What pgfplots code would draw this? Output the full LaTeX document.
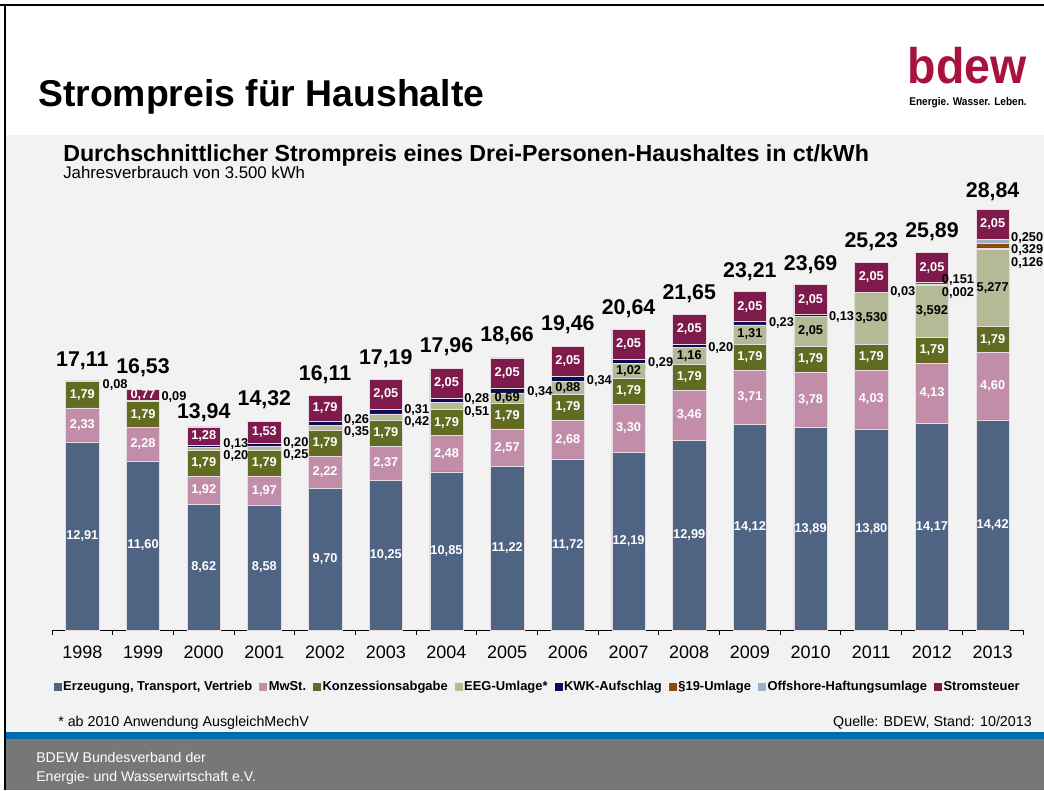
\documentclass[border=0pt]{standalone}
\usepackage{fontspec}
\setmainfont{Liberation Sans}
\usepackage{pgfplots}
\usepackage{pgfplotstable}
\pgfplotsset{compat=1.18}

\definecolor{cErz}{HTML}{4F6382}
\definecolor{cMwSt}{HTML}{C28DA8}
\definecolor{cKA}{HTML}{616B22}
\definecolor{cEEG}{HTML}{B4B996}
\definecolor{cKWK}{HTML}{0C0C55}
\definecolor{cP19}{HTML}{8F4A10}
\definecolor{cOff}{HTML}{9CB0CB}
\definecolor{cSS}{HTML}{7E1B4C}
\definecolor{cEdge}{HTML}{E6DDE2}
\definecolor{panel}{HTML}{F2F2F2}
\definecolor{band}{HTML}{0069B3}
\definecolor{foot}{HTML}{777777}
\definecolor{bdewred}{HTML}{A8123E}

\newcommand\fs[1]{\fontsize{#1}{#1}\selectfont}

\pgfplotstableread{
yr erz mwst ka eeg kwk p19 off ss
0 12.91 2.33 1.79 0.08 0 0 0 0
1 11.60 2.28 1.79 0.09 0 0 0 0.77
2 8.62 1.92 1.79 0.20 0.13 0 0 1.28
3 8.58 1.97 1.79 0.25 0.20 0 0 1.53
4 9.70 2.22 1.79 0.35 0.26 0 0 1.79
5 10.25 2.37 1.79 0.42 0.31 0 0 2.05
6 10.85 2.48 1.79 0.51 0.28 0 0 2.05
7 11.22 2.57 1.79 0.69 0.34 0 0 2.05
8 11.72 2.68 1.79 0.88 0.34 0 0 2.05
9 12.19 3.30 1.79 1.02 0.29 0 0 2.05
10 12.99 3.46 1.79 1.16 0.20 0 0 2.05
11 14.12 3.71 1.79 1.31 0.23 0 0 2.05
12 13.89 3.78 1.79 2.05 0.13 0 0 2.05
13 13.80 4.03 1.79 3.530 0.03 0 0 2.05
14 14.17 4.13 1.79 3.592 0.002 0.151 0 2.05
15 14.42 4.60 1.79 5.277 0.126 0.329 0.250 2.05
}\bars

\pgfplotstableread{
x y l
0 6.455 12,91
0 14.075 2,33
0 16.135 1,79
1 5.80 11,60
1 12.74 2,28
1 14.775 1,79
1 16.145 0,77
2 4.31 8,62
2 9.58 1,92
2 11.435 1,79
2 13.30 1,28
3 4.29 8,58
3 9.565 1,97
3 11.445 1,79
3 13.555 1,53
4 4.85 9,70
4 10.81 2,22
4 12.815 1,79
4 15.215 1,79
5 5.125 10,25
5 11.435 2,37
5 13.515 1,79
5 16.165 2,05
6 5.425 10,85
6 12.09 2,48
6 14.225 1,79
6 16.935 2,05
7 5.61 11,22
7 12.505 2,57
7 14.685 1,79
7 17.635 2,05
8 5.86 11,72
8 13.06 2,68
8 15.295 1,79
8 18.435 2,05
9 6.095 12,19
9 13.84 3,30
9 16.385 1,79
9 19.615 2,05
10 6.495 12,99
10 14.72 3,46
10 17.345 1,79
10 20.625 2,05
11 7.06 14,12
11 15.975 3,71
11 18.725 1,79
11 22.185 2,05
12 6.945 13,89
12 15.78 3,78
12 18.565 1,79
12 22.665 2,05
13 6.90 13,80
13 15.815 4,03
13 18.725 1,79
13 24.205 2,05
14 7.085 14,17
14 16.235 4,13
14 19.195 1,79
14 24.86 2,05
15 7.21 14,42
15 16.72 4,60
15 19.915 1,79
15 27.817 2,05
}\labW

\pgfplotstableread{
x y l
7 15.925 0,69
8 16.63 0,88
9 17.79 1,02
10 18.82 1,16
11 20.275 1,31
12 20.485 2,05
13 21.385 3,530
14 21.886 3,592
15 23.45 5,277
}\labB

\pgfplotstableread{
x y l
0.33 16.8 0,08
1.30 16.00 0,09
2.32 12.77 0,13
2.32 11.92 0,20
3.31 12.84 0,20
3.31 11.99 0,25
4.31 14.41 0,26
4.31 13.57 0,35
5.30 15.10 0,31
5.30 14.25 0,42
6.29 15.86 0,28
6.29 14.94 0,51
7.33 16.32 0,34
8.31 17.08 0,34
9.32 18.31 0,29
10.31 19.34 0,20
11.31 21.06 0,23
12.30 21.45 0,13
13.31 23.18 0,03
14.16 24.00 0,151
14.16 23.14 0,002
15.30 26.90 0,250
15.30 26.06 0,329
15.30 25.20 0,126
}\labR

% totals: x, baseline position of the label (data units), text
\pgfplotstableread{
x y l
0 18.11 17,11
1 17.63 16,53
2 14.48 13,94
3 15.43 14,32
4 17.15 16,11
5 18.18 17,19
6 19.07 17,96
7 19.78 18,66
8 20.55 19,46
9 21.67 20,64
10 22.70 21,65
11 24.21 23,21
12 24.69 23,69
13 26.27 25,23
14 26.95 25,89
15 29.70 28,84
}\labT

\begin{document}
\begin{tikzpicture}
\begin{scope}[x=0.75pt,y=-0.75pt]
  \fill[white] (0,0) rectangle (1044,790);
  \fill[panel] (5,135) rectangle (1044,732);
  \fill[band] (5,732) rectangle (1044,739);
  \fill[foot] (5,739) rectangle (1044,790);
  \draw[black, line width=1.1pt] (0,5) -- (1044,5);
  \draw[black, line width=1.1pt] (5,5) -- (5,790);
  \node[anchor=base west, inner sep=0pt] at (38,106) {\fs{28}\bfseries Strompreis für Haushalte};
  \node[anchor=base east, inner sep=0pt, text=bdewred] at (1027,83) {\scalebox{0.93}[1]{\fs{37.5}\bfseries bdew}};
  \node[anchor=base east, inner sep=0pt] at (1027,105) {\scalebox{0.9}[1]{\fs{8.4}\bfseries Energie. Wasser. Leben.}};
  \node[anchor=base west, inner sep=0pt] at (63,161) {\fs{17.4}\bfseries Durchschnittlicher Strompreis eines Drei-Personen-Haushaltes in ct/kWh};
  \node[anchor=base west, inner sep=0pt] at (63,178) {\fs{12.6}Jahresverbrauch von 3.500 kWh};
  \node[anchor=base west, inner sep=0pt] at (58,726) {\fs{10.7}* ab 2010 Anwendung AusgleichMechV};
  \node[anchor=base east, inner sep=0pt] at (1032,726) {\fs{10.7}Quelle: BDEW, Stand: 10/2013};
  \node[anchor=base west, inner sep=0pt, text=white] at (36,762) {\fs{10.6}BDEW Bundesverband der};
  \node[anchor=base west, inner sep=0pt, text=white] at (36,781) {\fs{10.6}Energie- und Wasserwirtschaft e.V.};
\end{scope}

\begin{axis}[
  at={(39pt,-472.5pt)}, anchor=south west,
  scale only axis, width=728.25pt, height=328pt,
  xmin=-0.5, xmax=15.5, ymin=0, ymax=30,
  ybar stacked, bar width=25pt,
  axis x line*=bottom, axis y line=none, ytick=\empty,
  xtick={0,...,15},
  xticklabels={1998,1999,2000,2001,2002,2003,2004,2005,2006,2007,2008,2009,2010,2011,2012,2013},
  minor xtick={-0.5,0.5,...,15.5},
  major tick length=0pt, minor tick length=3.5pt,
  tick align=outside,
  tick style={black, line width=0.75pt},
  axis line style={black, line width=0.75pt},
  xticklabel style={font=\fs{13.5}, anchor=base, yshift=-21.4pt},
  clip=false,
  legend image code/.code={\fill[#1,draw=none] (0pt,-3pt) rectangle (6pt,3pt);},
  legend columns=-1,
  legend style={at={(0.5,-0.1303)}, anchor=center, draw=none, fill=none,
    font=\fs{9.7}\bfseries, nodes={inner xsep=1.2pt},
    /tikz/every even column/.append style={column sep=4pt}},
]
\addplot[fill=cErz, draw=cEdge, line width=0.4pt] table[x=yr,y=erz]\bars;
\addlegendentry{Erzeugung, Transport, Vertrieb}
\addplot[fill=cMwSt, draw=cEdge, line width=0.4pt] table[x=yr,y=mwst]\bars;
\addlegendentry{MwSt.}
\addplot[fill=cKA, draw=cEdge, line width=0.4pt] table[x=yr,y=ka]\bars;
\addlegendentry{Konzessionsabgabe}
\addplot[fill=cEEG, draw=cEdge, line width=0.4pt] table[x=yr,y=eeg]\bars;
\addlegendentry{EEG-Umlage*}
\addplot[fill=cKWK, draw=cEdge, line width=0.4pt] table[x=yr,y=kwk]\bars;
\addlegendentry{KWK-Aufschlag}
\addplot[fill=cP19, draw=cEdge, line width=0.4pt] table[x=yr,y=p19]\bars;
\addlegendentry{§19-Umlage}
\addplot[fill=cOff, draw=cEdge, line width=0.4pt] table[x=yr,y=off]\bars;
\addlegendentry{Offshore-Haftungsumlage}
\addplot[fill=cSS, draw=cEdge, line width=0.4pt] table[x=yr,y=ss]\bars;
\addlegendentry{Stromsteuer}
\end{axis}

\begin{axis}[
  at={(39pt,-472.5pt)}, anchor=south west,
  scale only axis, width=728.25pt, height=328pt,
  xmin=-0.5, xmax=15.5, ymin=0, ymax=30,
  hide axis, clip=false,
  point meta=explicit symbolic,
  nodes near coords={\pgfplotspointmeta},
]
\addplot[draw=none, mark=none, every node near coord/.append style={anchor=center, text=white, font=\fs{9.6}\bfseries, inner sep=0pt}] table[x=x,y=y,meta=l]\labW;
\addplot[draw=none, mark=none, every node near coord/.append style={anchor=center, text=black, font=\fs{9.6}\bfseries, inner sep=0pt}] table[x=x,y=y,meta=l]\labB;
\addplot[draw=none, mark=none, every node near coord/.append style={anchor=west, text=black, font=\fs{9.6}\bfseries, inner sep=0pt}] table[x=x,y=y,meta=l]\labR;
\addplot[draw=none, mark=none, every node near coord/.append style={anchor=base, text=black, font=\fs{16}\bfseries, inner sep=0pt}] table[x=x,y=y,meta=l]\labT;
\end{axis}
\pgfresetboundingbox
\path[use as bounding box] (0,0) rectangle (783pt,-592.5pt);
\end{tikzpicture}
\end{document}
